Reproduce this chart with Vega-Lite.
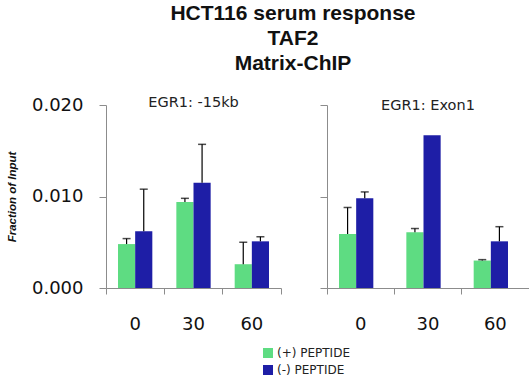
{
  "$schema": "https://vega.github.io/schema/vega-lite/v6.json",
  "padding": {"left": 6, "top": 2, "right": 4, "bottom": 4},
  "bounds": "flush",
  "spacing": 46,
  "datasets": {
    "chip": [
      {"panel": "EGR1: -15kb", "time": "0", "treatment": "(+) PEPTIDE", "value": 0.0048, "hi": 0.0054},
      {"panel": "EGR1: -15kb", "time": "0", "treatment": "(-) PEPTIDE", "value": 0.0062, "hi": 0.0108},
      {"panel": "EGR1: -15kb", "time": "30", "treatment": "(+) PEPTIDE", "value": 0.0094, "hi": 0.0098},
      {"panel": "EGR1: -15kb", "time": "30", "treatment": "(-) PEPTIDE", "value": 0.0115, "hi": 0.0157},
      {"panel": "EGR1: -15kb", "time": "60", "treatment": "(+) PEPTIDE", "value": 0.0026, "hi": 0.0050},
      {"panel": "EGR1: -15kb", "time": "60", "treatment": "(-) PEPTIDE", "value": 0.0051, "hi": 0.0056},
      {"panel": "EGR1: Exon1", "time": "0", "treatment": "(+) PEPTIDE", "value": 0.0059, "hi": 0.0088},
      {"panel": "EGR1: Exon1", "time": "0", "treatment": "(-) PEPTIDE", "value": 0.0098, "hi": 0.0105},
      {"panel": "EGR1: Exon1", "time": "30", "treatment": "(+) PEPTIDE", "value": 0.0061, "hi": 0.0065},
      {"panel": "EGR1: Exon1", "time": "30", "treatment": "(-) PEPTIDE", "value": 0.0167, "hi": 0.0167},
      {"panel": "EGR1: Exon1", "time": "60", "treatment": "(+) PEPTIDE", "value": 0.0030, "hi": 0.0031},
      {"panel": "EGR1: Exon1", "time": "60", "treatment": "(-) PEPTIDE", "value": 0.0051, "hi": 0.0067}
    ]
  },
  "title": {
    "text": ["HCT116 serum response", "TAF2", "Matrix-ChIP"],
    "font": "Liberation Sans",
    "fontSize": 21,
    "fontWeight": "bold",
    "color": "#111111",
    "lineHeight": 25,
    "anchor": "middle",
    "dx": 25,
    "offset": 21
  },
  "hconcat": [
    {
      "width": 175,
      "height": 183,
      "title": {"text": "EGR1: -15kb", "frame": "group", "offset": -14, "font": "DejaVu Sans", "fontSize": 14.5, "fontWeight": "normal", "color": "#222222"},
      "data": {"name": "chip"},
      "transform": [{"filter": "datum.panel == 'EGR1: -15kb'"}],
      "encoding": {
        "x": {
          "field": "time", "type": "nominal", "sort": ["0", "30", "60"],
          "scale": {"paddingInner": 0, "paddingOuter": 0},
          "axis": {"title": null, "labelAngle": 0, "bandPosition": 1, "tickExtra": true, "tickSize": 6, "labelPadding": 21}
        }
      },
      "layer": [
        {
          "mark": {"type": "bar"},
          "encoding": {
            "xOffset": {"field": "treatment", "type": "nominal", "sort": ["(+) PEPTIDE", "(-) PEPTIDE"], "scale": {"paddingInner": 0, "paddingOuter": 0.7}},
            "y": {"field": "value", "type": "quantitative", "scale": {"domain": [0, 0.02]},
                  "axis": {"title": "Fraction of Input", "values": [0, 0.01, 0.02], "format": ".3f", "grid": false, "tickSize": 7, "labelPadding": 16, "titlePadding": 14,
                           "titleFont": "Liberation Sans", "titleFontStyle": "italic", "titleFontWeight": "bold", "titleFontSize": 11.5, "titleColor": "#111111"}},
            "color": {"field": "treatment", "type": "nominal", "sort": ["(+) PEPTIDE", "(-) PEPTIDE"],
                      "scale": {"domain": ["(+) PEPTIDE", "(-) PEPTIDE"], "range": ["#5edc82", "#1e1ea6"]},
                      "legend": {"title": null, "orient": "none", "legendX": 156, "legendY": 242, "symbolType": "square", "symbolSize": 100, "symbolStrokeWidth": 0, "labelFont": "DejaVu Sans", "labelFontSize": 12, "labelColor": "#222222", "labelOffset": 3, "rowPadding": 5}}
          }
        },
        {
          "transform": [{"filter": "datum.hi > datum.value"}],
          "mark": {"type": "rule", "color": "black", "strokeWidth": 1.2},
          "encoding": {
            "xOffset": {"field": "treatment", "type": "nominal", "sort": ["(+) PEPTIDE", "(-) PEPTIDE"]},
            "y": {"field": "value", "type": "quantitative"},
            "y2": {"field": "hi"}
          }
        },
        {
          "transform": [{"filter": "datum.hi > datum.value"}],
          "mark": {"type": "tick", "color": "black", "thickness": 1.5, "size": 8},
          "encoding": {
            "xOffset": {"field": "treatment", "type": "nominal", "sort": ["(+) PEPTIDE", "(-) PEPTIDE"]},
            "y": {"field": "hi", "type": "quantitative"}
          }
        }
      ]
    },
    {
      "width": 202,
      "height": 183,
      "title": {"text": "EGR1: Exon1", "frame": "group", "offset": -9, "font": "DejaVu Sans", "fontSize": 14.5, "fontWeight": "normal", "color": "#222222"},
      "data": {"name": "chip"},
      "transform": [{"filter": "datum.panel == 'EGR1: Exon1'"}],
      "encoding": {
        "x": {
          "field": "time", "type": "nominal", "sort": ["0", "30", "60"],
          "scale": {"paddingInner": 0, "paddingOuter": 0},
          "axis": {"title": null, "labelAngle": 0, "bandPosition": 1, "tickExtra": true, "tickSize": 6, "labelPadding": 21}
        }
      },
      "layer": [
        {
          "mark": {"type": "bar"},
          "encoding": {
            "xOffset": {"field": "treatment", "type": "nominal", "sort": ["(+) PEPTIDE", "(-) PEPTIDE"], "scale": {"paddingInner": 0, "paddingOuter": 0.7}},
            "y": {"field": "value", "type": "quantitative", "scale": {"domain": [0, 0.02]},
                  "axis": {"title": null, "values": [0, 0.01, 0.02], "labels": false, "grid": false, "tickSize": 7}},
            "color": {"field": "treatment", "type": "nominal", "sort": ["(+) PEPTIDE", "(-) PEPTIDE"],
                      "scale": {"domain": ["(+) PEPTIDE", "(-) PEPTIDE"], "range": ["#5edc82", "#1e1ea6"]},
                      "legend": {"title": null, "orient": "none", "legendX": 156, "legendY": 242, "symbolType": "square", "symbolSize": 100, "symbolStrokeWidth": 0, "labelFont": "DejaVu Sans", "labelFontSize": 12, "labelColor": "#222222", "labelOffset": 3, "rowPadding": 5}}
          }
        },
        {
          "transform": [{"filter": "datum.hi > datum.value"}],
          "mark": {"type": "rule", "color": "black", "strokeWidth": 1.2},
          "encoding": {
            "xOffset": {"field": "treatment", "type": "nominal", "sort": ["(+) PEPTIDE", "(-) PEPTIDE"]},
            "y": {"field": "value", "type": "quantitative"},
            "y2": {"field": "hi"}
          }
        },
        {
          "transform": [{"filter": "datum.hi > datum.value"}],
          "mark": {"type": "tick", "color": "black", "thickness": 1.5, "size": 8},
          "encoding": {
            "xOffset": {"field": "treatment", "type": "nominal", "sort": ["(+) PEPTIDE", "(-) PEPTIDE"]},
            "y": {"field": "hi", "type": "quantitative"}
          }
        }
      ]
    }
  ],
  "config": {
    "view": {"stroke": null},
    "axis": {
      "domainColor": "#8c8c8c",
      "tickColor": "#8c8c8c",
      "labelColor": "#111111",
      "labelFont": "DejaVu Sans",
      "labelFontSize": 18
    }
  }
}
